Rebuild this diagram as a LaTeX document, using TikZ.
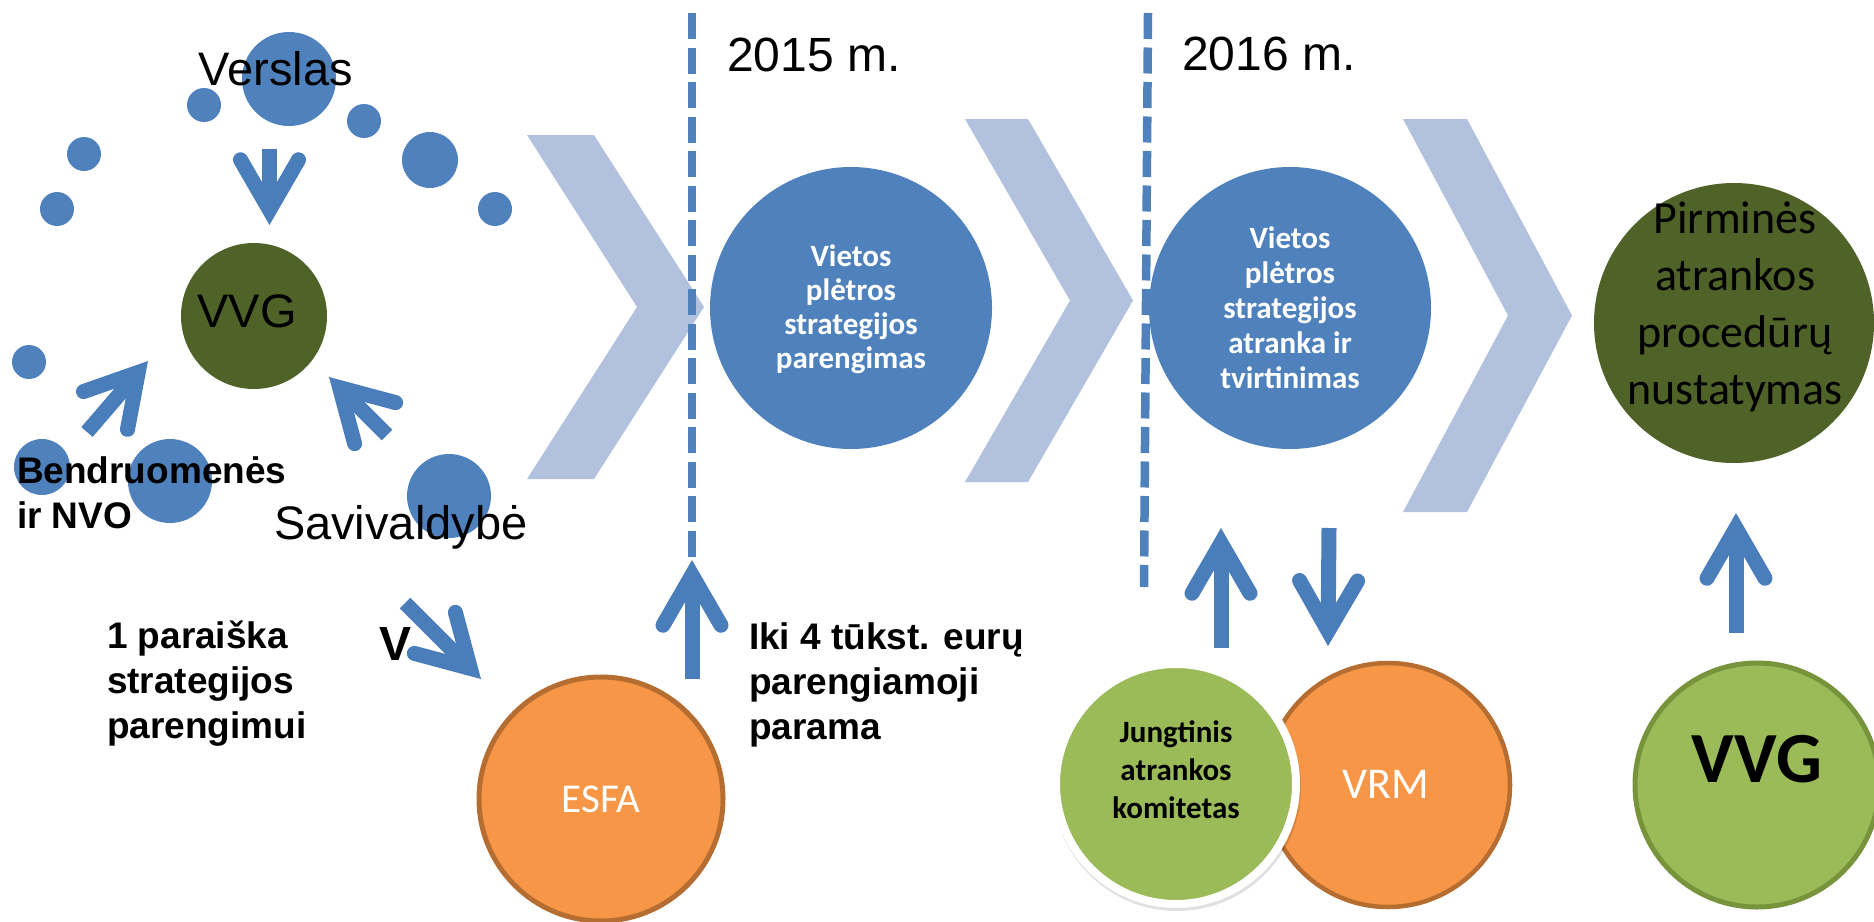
\documentclass[tikz,border=0pt]{standalone}
\usepackage{fontspec}
\setmainfont{Liberation Sans}
\newfontfamily\calfont{Carlito}
\usetikzlibrary{calc}
\definecolor{blueC}{HTML}{4F81BD}
\definecolor{arrowC}{HTML}{4A7EBB}
\definecolor{chevC}{RGB}{178,193,221}
\definecolor{darkG}{HTML}{4F6228}
\definecolor{lightG}{HTML}{9BBB59}
\definecolor{lightGB}{HTML}{77933C}
\definecolor{orangeC}{HTML}{F79646}
\definecolor{orangeB}{HTML}{B66D31}
\tikzset{
  blob/.style={circle, fill=blueC, inner sep=0pt, minimum size=#1},
  disc/.style={circle, inner sep=0pt, minimum size=#1},
  txt/.style={inner sep=0pt, outer sep=0pt},
  chev/.style={fill=chevC},
  divider/.style={draw=blueC, line width=8.5pt, dash pattern=on 26pt off 8.5pt},
  fatbody/.style={draw=arrowC, line width=15pt},
  fathead/.style={draw=arrowC, line width=15pt, line cap=round, line join=miter, miter limit=10},
}
\newcommand\fatarrow[2]{%
  \coordinate (fav) at ($(#2)!15pt!(#1)$);
  \draw[fatbody] (#1) -- (fav);
  \draw[fathead] ($(fav)!58pt!30:(#1)$) -- (fav) -- ($(fav)!58pt!-30:(#1)$);
}
\begin{document}
\begin{tikzpicture}[x=1pt,y=-1pt]
\useasboundingbox (0,0) rectangle (1874,921);
\clip (0,0) rectangle (1874,921);
\fill[white] (0,0) rectangle (1874,921);

% chevrons
\fill[chev] (527,135) -- (594,135) -- (704,307) -- (594,479) -- (527,479) -- (637,307) -- cycle;
\fill[chev] (965,119) -- (1028,119) -- (1133,300.5) -- (1028,482) -- (965,482) -- (1070,300.5) -- cycle;
\fill[chev] (1403,119) -- (1467,119) -- (1572,315.5) -- (1467,512) -- (1403,512) -- (1508,315.5) -- cycle;

% year dividers
\coordinate (d1top) at (692,13); \coordinate (d1bot) at (692,559);
\coordinate (d2top) at (1148,13); \coordinate (d2bot) at (1144,587);
\draw[divider] (d1top) -- (d1bot);
\draw[divider] (d2top) -- (d2bot);

% small blue circles (left cluster)
\node[blob=94] (bversl) at (289,79) {};
\node[blob=34] (b1) at (204,105) {};
\node[blob=34] (b2) at (364,121) {};
\node[blob=34] (b3) at (84,154) {};
\node[blob=34] (b4) at (57,209) {};
\node[blob=56] (b5) at (430,160) {};
\node[blob=34] (b6) at (495,209) {};
\node[blob=34] (b7) at (29,362) {};
\node[blob=56] (b8) at (42,467) {};
\node[blob=84] (b9) at (170,481) {};
\node[blob=84] (b10) at (449,496) {};

% main circles
\node[disc=146, fill=darkG] (vvg) at (254,316) {};
\node[disc=282, fill=blueC] (c1) at (851,308) {};
\node[disc=282, fill=blueC] (c2) at (1290,308) {};
\node[disc=280, fill=darkG] (c3) at (1734,323) {};
\node[disc=244, fill=orangeC, draw=orangeB, line width=5pt] (esfa) at (601,799) {};
\node[disc=244, fill=orangeC, draw=orangeB, line width=4.5pt] (vrm) at (1388,785) {};
\fill[black, opacity=0.12] (1177,787) circle (124);
\node[disc=240, fill=lightG, draw=white, line width=8pt] (jak) at (1176,784) {};
\node[disc=244, fill=lightG, draw=lightGB, line width=5pt] (vvg2) at (1757,785) {};

% texts (multi-line nodes: base = baseline of last line)
\node[txt, anchor=base, font=\fontsize{47}{56}\selectfont] (tversl) at (276,85) {Verslas};
\node[txt, anchor=base, font=\fontsize{47}{56}\selectfont] (tvvg) at (247,327) {VVG};
\node[txt, anchor=base west, align=left, font=\bfseries\fontsize{37}{45}\selectfont] (tbendr) at (17,528) {Bendruomenės\\ir NVO};
\node[txt, anchor=base west, font=\fontsize{47}{56}\selectfont] (tsav) at (274,539) {Savivaldybė};
\node[txt, anchor=base west, align=left, font=\bfseries\fontsize{37}{45}\selectfont] (tpar) at (107,738) {1 paraiška\\strategijos\\parengimui};
\node[txt, anchor=base west, font=\bfseries\fontsize{48}{56}\selectfont] (tv) at (379,660) {V};
\node[txt, anchor=base west, align=left, font=\bfseries\fontsize{37}{45}\selectfont] (tiki) at (749,739) {Iki 4 tūkst. eurų\\parengiamoji\\parama};
\node[txt, anchor=base west, font=\fontsize{48}{56}\selectfont] (y2015) at (727,71) {2015 m.};
\node[txt, anchor=base west, font=\fontsize{48}{56}\selectfont] (y2016) at (1182,70) {2016 m.};
\node[txt, anchor=base, align=center, text=white, font=\calfont\bfseries\fontsize{31}{34}\selectfont] (tc1) at (851,368) {Vietos\\plėtros\\strategijos\\parengimas};
\node[txt, anchor=base, align=center, text=white, font=\calfont\bfseries\fontsize{31}{35}\selectfont] (tc2) at (1290,388) {Vietos\\plėtros\\strategijos\\atranka ir\\tvirtinimas};
\node[txt, anchor=base, align=center, font=\calfont\fontsize{46}{57}\selectfont] (tc3) at (1735,404) {Pirminės\\atrankos\\procedūrų\\nustatymas};
\node[txt, anchor=base, text=white, font=\calfont\fontsize{41}{49}\selectfont] (tesfa) at (601,812) {ESFA};
\node[txt, anchor=base, align=center, font=\calfont\bfseries\fontsize{31}{38}\selectfont] (tjak) at (1176,818) {Jungtinis\\atrankos\\komitetas};
\node[txt, anchor=base, text=white, font=\calfont\fontsize{44}{52}\selectfont] (tvrm) at (1386,798) {VRM};
\node[txt, anchor=base, font=\calfont\bfseries\fontsize{72}{80}\selectfont] (tvvg2) at (1757,782) {VVG};

% fat arrows
\coordinate (a1s) at (269.5,149); \coordinate (a1t) at (269.5,225);
\coordinate (a2s) at (87,432);    \coordinate (a2t) at (148,361);
\coordinate (a3s) at (387,435);   \coordinate (a3t) at (329,377);
\coordinate (a4s) at (405,603);   \coordinate (a4t) at (481,679);
\coordinate (a5s) at (692,679);   \coordinate (a5t) at (692,560);
\coordinate (a6s) at (1221,648);  \coordinate (a6t) at (1221,528);
\coordinate (a7s) at (1329,528);  \coordinate (a7t) at (1328,646);
\coordinate (a8s) at (1736,633);  \coordinate (a8t) at (1736,513);
\fatarrow{a1s}{a1t}
\fatarrow{a2s}{a2t}
\fatarrow{a3s}{a3t}
\fatarrow{a4s}{a4t}
\fatarrow{a5s}{a5t}
\fatarrow{a6s}{a6t}
\fatarrow{a7s}{a7t}
\fatarrow{a8s}{a8t}
\end{tikzpicture}
\end{document}
